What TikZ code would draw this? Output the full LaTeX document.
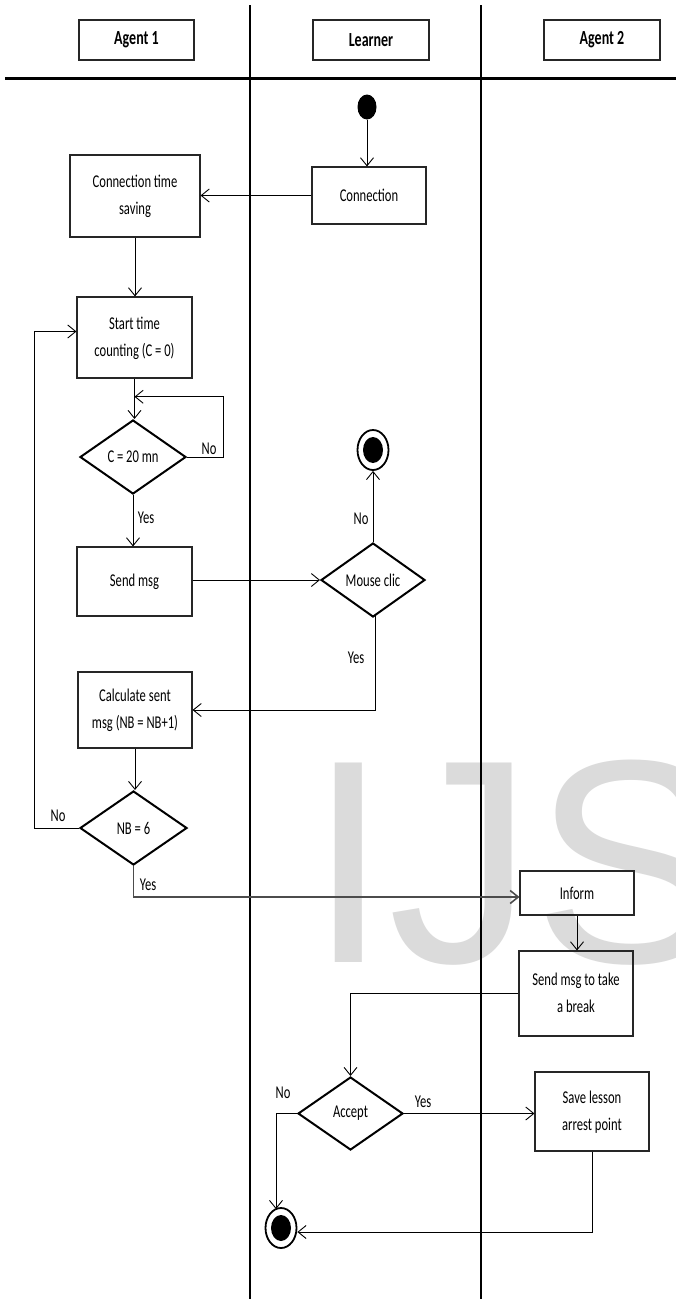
\documentclass[tikz,border=0pt]{standalone}
\usepackage{fontspec}
\setmainfont[FakeStretch=0.7]{Carlito}
\newfontfamily\wmfont{Liberation Sans}
\usetikzlibrary{shapes.geometric,arrows.meta,calc}
\newcommand{\twol}[3][-3pt]{\raisebox{#1}{\begin{tabular}{@{}c@{}}#2\\#3\end{tabular}}}
\tikzset{
  txt/.style={font=\fontsize{18}{27}\selectfont, align=center},
  box/.style={txt, draw=black!85, line width=1.1pt, rectangle, inner sep=0pt},
  hdr/.style={box, font=\fontsize{20}{27}\selectfont\bfseries, minimum width=116pt, minimum height=40pt},
  dia/.style={txt, draw=black, line width=2pt, diamond, aspect=1.43, inner sep=0pt},
  arr/.style={line width=0.9pt, -{Straight Barb[length=8pt,width=13pt]}},
  lbl/.style={txt, inner sep=0pt},
  lane/.style={line width=2pt},
  startdot/.style={ellipse, fill=black, minimum width=19pt, minimum height=25pt, inner sep=0pt},
  enddot/.style={ellipse, draw=black, line width=1.8pt, fill=white, minimum width=31pt, minimum height=40pt, inner sep=0pt,
    path picture={\fill[black] (path picture bounding box.center) ellipse [x radius=10pt, y radius=13pt];}}
}
\begin{document}
\begin{tikzpicture}[x=1pt,y=-1pt]
\clip (0,0) rectangle (676,1299);
\fill[white] (0,0) rectangle (676,1299);
% watermark
\node[anchor=base west, inner sep=0pt, text=black!14, font=\wmfont\fontsize{290}{290}\selectfont] (wm) at (308,962) {IJS};
% swimlanes
\draw[lane] (250,5) -- (250,1299);
\draw[lane] (481,5) -- (481,1299);
\draw[line width=3pt] (5,78) -- (676,78);
% headers
\node[hdr, minimum width=115pt] (h1) at (136.5,40) {Agent 1};
\node[hdr] (h2) at (371,40) {Learner};
\node[hdr] (h3) at (602,40) {Agent 2};
% nodes
\node[startdot] (s0) at (367,107) {};
\node[box, minimum width=114pt, minimum height=57pt] (conn) at (369,195.5) {Connection};
\node[box, minimum width=130pt, minimum height=82pt] (cts) at (135,196) {\twol{Connection time}{saving}};
\node[box, minimum width=115pt, minimum height=81pt] (start) at (134.5,337.5) {\twol{Start time}{counting (C = 0)}};
\node[dia, minimum width=106pt, minimum height=74pt] (d1) at (133,457) {C = 20 mn};
\node[box, minimum width=115pt, minimum height=69pt] (send) at (134.5,581.5) {Send msg};
\node[dia, minimum width=104pt, minimum height=74pt] (mouse) at (373,580) {Mouse clic};
\node[enddot] (e1) at (373,450) {};
\node[box, minimum width=114pt, minimum height=76pt] (calc) at (135,710) {\twol{Calculate sent}{msg (NB = NB+1)}};
\node[dia, minimum width=107pt, minimum height=74pt] (d2) at (133.5,828) {NB = 6};
\node[box, minimum width=114pt, minimum height=44pt] (inform) at (577,893) {Inform};
\node[box, minimum width=114pt, minimum height=85pt] (brk) at (576,993.5) {\twol[-1pt]{Send msg to take}{a break}};
\node[dia, minimum width=105pt, minimum height=73pt] (acc) at (350.5,1113.5) {Accept};
\node[box, minimum width=114pt, minimum height=79pt] (save) at (592,1111.5) {\twol[-4pt]{Save lesson}{arrest point}};
\node[enddot] (e2) at (281,1228) {};
% connectors
\draw[arr] (s0.south) -- (conn.north -| s0.south);
\draw[arr] (conn.west) -- (conn.west -| cts.east);
\draw[arr] (cts.south) -- (cts.south |- start.north);
\draw[arr] (start.south) -- (start.south |- d1.north);
\coordinate (loopin) at ($(start.south)!0.45!(start.south |- d1.north)$);
\draw[arr] (d1.east) -- ++(36,0) |- (loopin);
\draw[arr] (d1.south) -- (d1.south |- send.north);
\draw[arr] (mouse.west -| send.east) -- (mouse.west);
\draw[arr] (mouse.north) -- (e1.south);
\draw[arr] ($(mouse.south)+(2,-2)$) |- (calc.east);
\draw[arr] (calc.south) -- (calc.south |- d2.north);
\draw[arr] (d2.west) -- ++(-45,0) |- ($(start.west)+(0,-6)$);
\draw[line width=1.6pt, draw=black!70, -{Straight Barb[length=8pt,width=13pt]}] (d2.south) |- ($(inform.west)+(0,4)$);
\draw[arr] (inform.south) -- (inform.south |- brk.north);
\draw[arr] (brk.west) -| (acc.north);
\draw[arr] (acc.east) -- (acc.east -| save.west);
\draw[arr] (acc.west) -| ($(e2.north)+(-5,2)$);
\draw[arr] (save.south) |- ($(e2.east)+(0,4)$);
% labels
\node[lbl] (l1) at (209,449) {No};
\node[lbl] (l2) at (146,518) {Yes};
\node[lbl] (l3) at (361,519) {No};
\node[lbl] (l4) at (356,658) {Yes};
\node[lbl] (l5) at (58,816) {No};
\node[lbl] (l6) at (148,885) {Yes};
\node[lbl] (l7) at (283,1093) {No};
\node[lbl] (l8) at (423,1102) {Yes};
\end{tikzpicture}
\end{document}
